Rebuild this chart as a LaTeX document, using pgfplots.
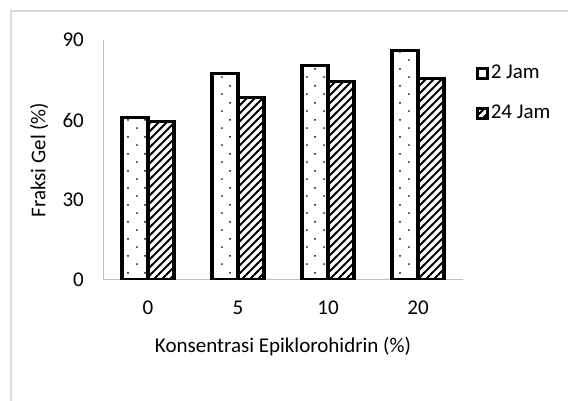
\documentclass[border=0pt]{standalone}
\usepackage{fontspec}
\setmainfont{Carlito}
\usepackage{pgfplots}
\pgfplotsset{compat=1.18}
\usetikzlibrary{patterns,patterns.meta}

% sparse staggered dots, like the Excel "5%" pattern
\pgfdeclarepattern{
  name=sparsedots,
  type=uncolored,
  bottom left={\pgfpoint{0bp}{0bp}},
  top right={\pgfpoint{16.6bp}{16.6bp}},
  tile size={\pgfpoint{16.6bp}{16.6bp}},
  code={
    \pgfpathcircle{\pgfpoint{4bp}{4bp}}{1bp}
    \pgfpathcircle{\pgfpoint{12.3bp}{12.3bp}}{1bp}
    \pgfusepath{fill}
  }
}
% wide diagonal hatch
\pgfdeclarepattern{
  name=widehatch,
  type=uncolored,
  bottom left={\pgfpoint{-1bp}{-1bp}},
  top right={\pgfpoint{9bp}{9bp}},
  tile size={\pgfpoint{8bp}{8bp}},
  code={
    \pgfsetlinewidth{2bp}
    \pgfpathmoveto{\pgfpoint{-1bp}{-1bp}}
    \pgfpathlineto{\pgfpoint{9bp}{9bp}}
    \pgfusepath{stroke}
  }
}

\definecolor{axisgray}{HTML}{BFBFBF}
\definecolor{framegray}{HTML}{D9D9D9}

\begin{document}
\fontsize{21bp}{25bp}\selectfont
\begin{tikzpicture}
\useasboundingbox (0,0) rectangle (568bp,401bp);
\draw[framegray, line width=1.3bp] (11bp,0) -- (11bp,390bp) -- (568bp,390bp);
\begin{axis}[
    at={(103bp,121bp)}, anchor=south west,
    width=360bp, height=240bp,
    scale only axis,
    ybar=0pt,
    bar width=26bp,
    xmin=-0.5, xmax=3.5,
    ymin=0, ymax=90,
    xtick=data,
    xticklabels={0,5,10,20},
    ytick={0,30,60,90},
    major tick length=0pt,
    axis x line*=bottom,
    axis y line*=left,
    axis line style={axisgray, line width=1bp, -},
    /pgf/number format/assume math mode=true,
    yticklabel style={xshift=-12bp},
    xticklabel style={yshift=-14bp},
    xlabel={Konsentrasi Epiklorohidrin (\%)},
    ylabel={Fraksi Gel (\%)},
    xlabel style={yshift=-8bp},
    legend style={at={(1.035,0.905)}, anchor=north west, draw=none, fill=none,
        row sep=19bp, inner sep=0pt,
        /tikz/every even column/.append style={column sep=7bp}},
    legend cell align=left,
    legend image code/.code={
        \draw[#1, line width=3bp] (1bp,-5bp) rectangle (11bp,5bp);
    },
]
\addplot[draw=black, line width=3.2bp, fill=white, postaction={pattern=sparsedots}]
    coordinates {(0,61) (1,77.5) (2,80.5) (3,86)};
\addplot[draw=black, line width=3.2bp, fill=white, postaction={pattern=widehatch}]
    coordinates {(0,59.5) (1,68.5) (2,74.5) (3,75.5)};
\legend{2 Jam, 24 Jam}
\end{axis}
\end{tikzpicture}
\end{document}
